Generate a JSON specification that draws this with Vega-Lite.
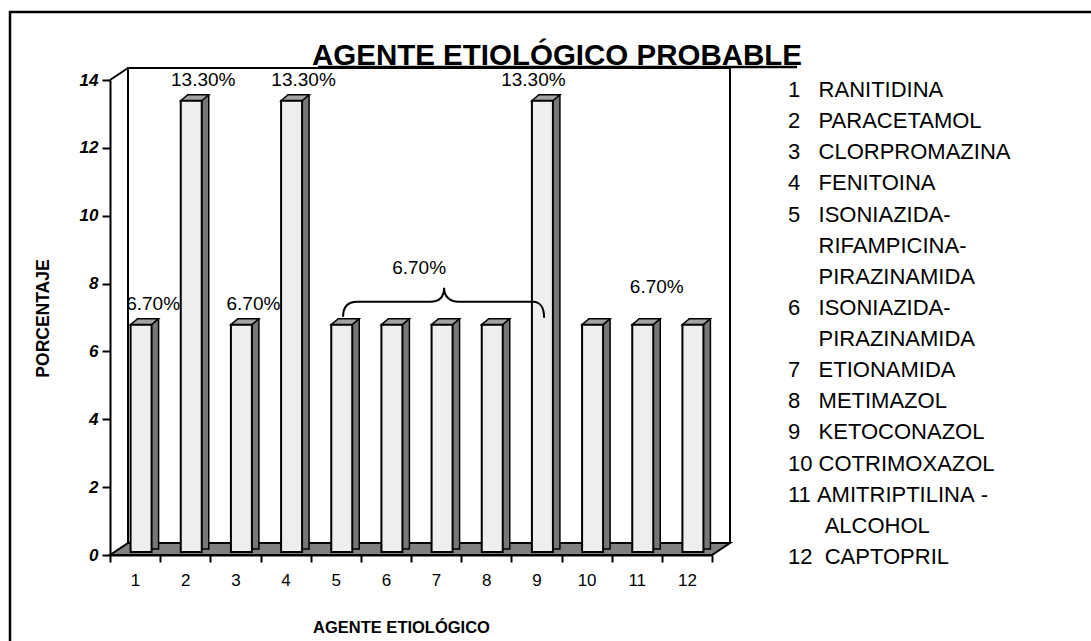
{
  "$schema": "https://vega.github.io/schema/vega-lite/v6.json",
  "width": 602,
  "height": 475,
  "autosize": {"type": "none"},
  "padding": {"left": 110, "top": 80, "right": 379, "bottom": 86},
  "background": "white",
  "config": {
    "view": {"stroke": null},
    "font": "Liberation Sans",
    "axis": {
      "labelFont": "Liberation Sans", "labelColor": "black",
      "titleFont": "Liberation Sans", "titleColor": "black", "titleFontWeight": "bold",
      "tickColor": "black", "tickWidth": 2, "domainColor": "black", "domainWidth": 2,
      "grid": false, "zindex": 1
    },
    "axisX": {
      "labelFontSize": 17, "labelPadding": 10, "labelAngle": 0, "tickSize": 7, "tickBand": "extent",
      "titleFontSize": 16.5, "titleX": 291, "titleY": 72, "titleBaseline": "middle", "titleAlign": "center"
    },
    "axisY": {
      "labelFontSize": 17, "labelFontWeight": "bold", "labelFontStyle": "italic", "labelPadding": 4, "tickSize": 8,
      "titleFontSize": 17.5, "titleX": -67, "titleY": 238, "titleAngle": 270, "titleBaseline": "middle", "titleAlign": "center"
    }
  },
  "title": {
    "text": "AGENTE ETIOLÓGICO PROBABLE",
    "font": "Liberation Sans",
    "fontSize": 29.5,
    "fontWeight": "bold",
    "color": "black",
    "anchor": "middle",
    "frame": "group",
    "offset": 0,
    "baseline": "alphabetic",
    "dy": 87,
    "dx": 146
  },
  "datasets": {
    "barras": [
      {"agente": "1", "pct": 6.7},
      {"agente": "2", "pct": 13.3},
      {"agente": "3", "pct": 6.7},
      {"agente": "4", "pct": 13.3},
      {"agente": "5", "pct": 6.7},
      {"agente": "6", "pct": 6.7},
      {"agente": "7", "pct": 6.7},
      {"agente": "8", "pct": 6.7},
      {"agente": "9", "pct": 13.3},
      {"agente": "10", "pct": 6.7},
      {"agente": "11", "pct": 6.7},
      {"agente": "12", "pct": 6.7}
    ],
    "etiquetas": [
      {"agente": "1", "pct": 6.7, "texto": "6.70%", "grupo": "barra"},
      {"agente": "2", "pct": 13.3, "texto": "13.30%", "grupo": "barra"},
      {"agente": "3", "pct": 6.7, "texto": "6.70%", "grupo": "barra"},
      {"agente": "4", "pct": 13.3, "texto": "13.30%", "grupo": "barra"},
      {"agente": "9", "pct": 13.3, "texto": "13.30%", "grupo": "barra9"},
      {"agente": "7", "pct": 6.7, "texto": "6.70%", "grupo": "llave"},
      {"agente": "11", "pct": 6.7, "texto": "6.70%", "grupo": "once"}
    ],
    "leyenda": [
      {
        "lineas": [
          "1\u00a0\u00a0\u00a0RANITIDINA",
          "2\u00a0\u00a0\u00a0PARACETAMOL",
          "3\u00a0\u00a0\u00a0CLORPROMAZINA",
          "4\u00a0\u00a0\u00a0FENITOINA",
          "5\u00a0\u00a0\u00a0ISONIAZIDA-",
          "\u200b\u00a0\u00a0\u00a0\u00a0\u00a0RIFAMPICINA-",
          "\u200b\u00a0\u00a0\u00a0\u00a0\u00a0PIRAZINAMIDA",
          "6\u00a0\u00a0\u00a0ISONIAZIDA-",
          "\u200b\u00a0\u00a0\u00a0\u00a0\u00a0PIRAZINAMIDA",
          "7\u00a0\u00a0\u00a0ETIONAMIDA",
          "8\u00a0\u00a0\u00a0METIMAZOL",
          "9\u00a0\u00a0\u00a0KETOCONAZOL",
          "10\u00a0COTRIMOXAZOL",
          "11\u00a0AMITRIPTILINA\u00a0-",
          "\u200b\u00a0\u00a0\u00a0\u00a0\u00a0\u00a0ALCOHOL",
          "12\u00a0\u00a0CAPTOPRIL"
        ]
      }
    ]
  },
  "layer": [
    {
      "data": {"values": [{}]},
      "mark": {"type": "point", "shape": "M 985 -68 L -100 -68 L -100 570 M 208 -13 L 687 -13", "size": 4, "filled": false, "stroke": "black", "strokeWidth": 2.5, "opacity": 1},
      "encoding": {
        "x": {"datum": "1", "bandPosition": 0, "type": "ordinal", "scale": {"domain": ["1","2","3","4","5","6","7","8","9","10","11","12"], "paddingInner": 0, "paddingOuter": 0}},
        "y": {"datum": 14, "type": "quantitative", "scale": {"domain": [0, 14], "nice": false}}
      }
    },
    {
      "data": {"values": [{}]},
      "mark": {"type": "point", "shape": "M 18 463 L 18 -12 L 620 -12 L 620 463", "size": 4, "filled": false, "stroke": "black", "strokeWidth": 2, "opacity": 1},
      "encoding": {
        "x": {"datum": "1", "bandPosition": 0, "type": "ordinal", "scale": {"domain": ["1","2","3","4","5","6","7","8","9","10","11","12"], "paddingInner": 0, "paddingOuter": 0}},
        "y": {"datum": 14, "type": "quantitative", "scale": {"domain": [0, 14], "nice": false}}
      }
    },
    {
      "data": {"values": [{}]},
      "mark": {"type": "point", "shape": "M 0 0 L 18 -12", "size": 4, "filled": false, "stroke": "black", "strokeWidth": 2, "opacity": 1},
      "encoding": {
        "x": {"datum": "1", "bandPosition": 0, "type": "ordinal", "scale": {"domain": ["1","2","3","4","5","6","7","8","9","10","11","12"], "paddingInner": 0, "paddingOuter": 0}},
        "y": {"datum": 14, "type": "quantitative", "scale": {"domain": [0, 14], "nice": false}}
      }
    },
    {
      "data": {"values": [{}]},
      "mark": {"type": "point", "shape": "M 0 0 L 18 -12 L 620 -12 L 602 0 Z", "size": 4, "filled": true, "fill": "#808080", "stroke": "black", "strokeWidth": 2, "opacity": 1},
      "encoding": {
        "x": {"datum": "1", "bandPosition": 0, "type": "ordinal", "scale": {"domain": ["1","2","3","4","5","6","7","8","9","10","11","12"], "paddingInner": 0, "paddingOuter": 0}},
        "y": {"datum": 0, "type": "quantitative", "scale": {"domain": [0, 14], "nice": false}}
      }
    },
    {
      "data": {"name": "barras"},
      "mark": {"type": "bar", "width": 21, "xOffset": 13, "yOffset": -9, "y2Offset": -6, "fill": "#777777", "stroke": "black", "strokeWidth": 1.5},
      "encoding": {
        "x": {"field": "agente", "type": "ordinal", "scale": {"domain": ["1","2","3","4","5","6","7","8","9","10","11","12"], "paddingInner": 0, "paddingOuter": 0}},
        "y": {"field": "pct", "type": "quantitative", "scale": {"domain": [0, 14], "nice": false}},
        "y2": {"datum": 0}
      }
    },
    {
      "data": {"name": "barras"},
      "mark": {"type": "point", "shape": "M -4.5 -3 L 2.5 -9 L 23.5 -9 L 16.5 -3 Z", "size": 4, "filled": true, "fill": "#a3a3a3", "stroke": "black", "strokeWidth": 1.5, "opacity": 1},
      "encoding": {
        "x": {"field": "agente", "type": "ordinal", "scale": {"domain": ["1","2","3","4","5","6","7","8","9","10","11","12"], "paddingInner": 0, "paddingOuter": 0}},
        "y": {"field": "pct", "type": "quantitative", "scale": {"domain": [0, 14], "nice": false}}
      }
    },
    {
      "data": {"name": "barras"},
      "mark": {"type": "bar", "width": 21, "xOffset": 6, "yOffset": -3, "y2Offset": -3, "fill": "#eeeeee", "stroke": "black", "strokeWidth": 2},
      "encoding": {
        "x": {
          "field": "agente", "type": "ordinal",
          "scale": {"domain": ["1","2","3","4","5","6","7","8","9","10","11","12"], "paddingInner": 0, "paddingOuter": 0},
          "axis": {"title": "AGENTE ETIOLÓGICO", "orient": "bottom", "labelFontSize": 17, "labelPadding": 10}
        },
        "y": {
          "field": "pct", "type": "quantitative",
          "scale": {"domain": [0, 14], "nice": false},
          "axis": {"title": "PORCENTAJE", "orient": "left", "values": [0, 2, 4, 6, 8, 10, 12, 14], "labelFontSize": 17, "labelFontWeight": "bold", "labelFontStyle": "italic"}
        },
        "y2": {"datum": 0}
      }
    },
    {
      "data": {"name": "etiquetas"},
      "transform": [{"filter": "datum.grupo == 'llave'"}],
      "mark": {"type": "point", "shape": "M -93 -11 C -93 -21 -88 -26 -79 -26 L -6 -26 C 3 -26 8 -31 8 -40 C 8 -31 14 -26 22 -26 L 97 -26 C 104 -26 108 -20 108 -10", "size": 4, "filled": false, "stroke": "black", "strokeWidth": 2, "opacity": 1},
      "encoding": {
        "x": {"field": "agente", "type": "ordinal", "scale": {"domain": ["1","2","3","4","5","6","7","8","9","10","11","12"], "paddingInner": 0, "paddingOuter": 0}},
        "y": {"field": "pct", "type": "quantitative", "scale": {"domain": [0, 14], "nice": false}}
      }
    },
    {
      "data": {"name": "etiquetas"},
      "transform": [{"filter": "datum.grupo == 'barra'"}],
      "mark": {"type": "text", "fontSize": 19, "font": "Liberation Sans", "color": "black", "dx": 18, "dy": -24, "baseline": "middle", "align": "center"},
      "encoding": {
        "x": {"field": "agente", "type": "ordinal", "scale": {"domain": ["1","2","3","4","5","6","7","8","9","10","11","12"], "paddingInner": 0, "paddingOuter": 0}},
        "y": {"field": "pct", "type": "quantitative", "scale": {"domain": [0, 14], "nice": false}},
        "text": {"field": "texto"}
      }
    },
    {
      "data": {"name": "etiquetas"},
      "transform": [{"filter": "datum.grupo == 'barra9'"}],
      "mark": {"type": "text", "fontSize": 19, "font": "Liberation Sans", "color": "black", "dx": -3, "dy": -24, "baseline": "middle", "align": "center"},
      "encoding": {
        "x": {"field": "agente", "type": "ordinal", "scale": {"domain": ["1","2","3","4","5","6","7","8","9","10","11","12"], "paddingInner": 0, "paddingOuter": 0}},
        "y": {"field": "pct", "type": "quantitative", "scale": {"domain": [0, 14], "nice": false}},
        "text": {"field": "texto"}
      }
    },
    {
      "data": {"name": "etiquetas"},
      "transform": [{"filter": "datum.grupo == 'llave'"}],
      "mark": {"type": "text", "fontSize": 19, "font": "Liberation Sans", "color": "black", "dx": -17, "dy": -60, "baseline": "middle", "align": "center"},
      "encoding": {
        "x": {"field": "agente", "type": "ordinal", "scale": {"domain": ["1","2","3","4","5","6","7","8","9","10","11","12"], "paddingInner": 0, "paddingOuter": 0}},
        "y": {"field": "pct", "type": "quantitative", "scale": {"domain": [0, 14], "nice": false}},
        "text": {"field": "texto"}
      }
    },
    {
      "data": {"name": "etiquetas"},
      "transform": [{"filter": "datum.grupo == 'once'"}],
      "mark": {"type": "text", "fontSize": 19, "font": "Liberation Sans", "color": "black", "dx": 20, "dy": -41, "baseline": "middle", "align": "center"},
      "encoding": {
        "x": {"field": "agente", "type": "ordinal", "scale": {"domain": ["1","2","3","4","5","6","7","8","9","10","11","12"], "paddingInner": 0, "paddingOuter": 0}},
        "y": {"field": "pct", "type": "quantitative", "scale": {"domain": [0, 14], "nice": false}},
        "text": {"field": "texto"}
      }
    },
    {
      "data": {"name": "leyenda"},
      "mark": {"type": "text", "fontSize": 22, "font": "Liberation Sans", "color": "black", "align": "left", "baseline": "top", "lineHeight": 31.13, "dx": 76},
      "encoding": {
        "x": {"datum": "12", "bandPosition": 1, "type": "ordinal", "scale": {"domain": ["1","2","3","4","5","6","7","8","9","10","11","12"], "paddingInner": 0, "paddingOuter": 0}},
        "y": {"datum": 14, "type": "quantitative", "scale": {"domain": [0, 14], "nice": false}},
        "text": {"field": "lineas"}
      }
    }
  ]
}
